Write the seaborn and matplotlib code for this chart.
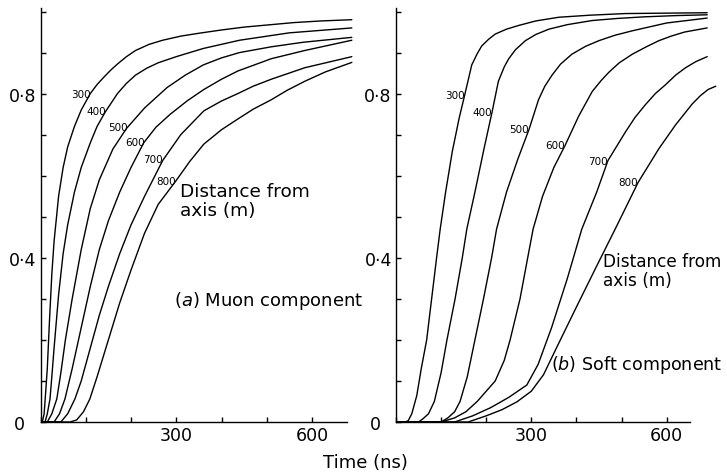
import numpy as np
import pandas as pd
import matplotlib
matplotlib.use("Agg")
import matplotlib.pyplot as plt
import seaborn as sns

# ---------------- data ----------------
distances = [300, 400, 500, 600, 700, 800]

muon_time = {
    300: [0, 4, 8, 10, 15, 20, 25, 30, 40, 50, 60, 75, 90, 110, 125, 140, 155, 170, 190, 210, 240, 270, 310, 350, 400, 450, 500, 560, 620, 688],
    400: [0, 10, 15, 21, 25, 30, 40, 50, 60, 75, 90, 110, 125, 143, 170, 190, 210, 235, 260, 300, 360, 440, 550, 688],
    500: [0, 15, 25, 36, 45, 55, 70, 90, 110, 130, 160, 190, 230, 280, 320, 360, 400, 440, 510, 580, 688],
    600: [0, 30, 42, 54, 70, 90, 110, 130, 150, 175, 200, 228, 255, 287, 325, 361, 400, 436, 510, 584, 688],
    700: [0, 45, 60, 76, 90, 110, 130, 150, 175, 200, 230, 270, 310, 361, 400, 436, 470, 510, 584, 688],
    800: [0, 65, 80, 95, 109, 125, 150, 175, 200, 230, 260, 299, 330, 361, 400, 436, 470, 510, 545, 584, 630, 688],
}
muon_frac = {
    300: [0, 0, 0.02, 0.05, 0.13, 0.25, 0.36, 0.44, 0.55, 0.62, 0.67, 0.72, 0.76, 0.80, 0.822, 0.84, 0.857, 0.872, 0.89, 0.905, 0.92, 0.93, 0.94, 0.947, 0.955, 0.962, 0.967, 0.973, 0.977, 0.98],
    400: [0, 0, 0.02, 0.056, 0.11, 0.18, 0.31, 0.41, 0.48, 0.56, 0.62, 0.68, 0.72, 0.755, 0.80, 0.825, 0.845, 0.862, 0.875, 0.89, 0.91, 0.93, 0.948, 0.96],
    500: [0, 0, 0.02, 0.056, 0.12, 0.2, 0.3, 0.42, 0.52, 0.59, 0.665, 0.715, 0.765, 0.815, 0.845, 0.87, 0.887, 0.90, 0.914, 0.925, 0.937],
    600: [0, 0, 0.02, 0.056, 0.13, 0.23, 0.33, 0.42, 0.49, 0.56, 0.62, 0.68, 0.718, 0.75, 0.783, 0.81, 0.835, 0.855, 0.885, 0.905, 0.93],
    700: [0, 0, 0.02, 0.056, 0.1, 0.18, 0.26, 0.33, 0.41, 0.48, 0.55, 0.637, 0.70, 0.758, 0.782, 0.80, 0.818, 0.835, 0.863, 0.89],
    800: [0, 0, 0.005, 0.025, 0.056, 0.11, 0.2, 0.29, 0.37, 0.46, 0.53, 0.587, 0.635, 0.677, 0.712, 0.738, 0.762, 0.785, 0.808, 0.83, 0.853, 0.876],
}

soft_time = {
    300: [0, 20, 27, 35, 46, 56, 68, 79, 90, 98, 110, 125, 140, 152, 168, 180, 190, 205, 220, 245, 272, 310, 361, 430, 509, 600, 690],
    400: [0, 50, 60, 72, 85, 100, 113, 131, 147, 157, 175, 195, 213, 227, 240, 250, 265, 287, 310, 339, 380, 435, 490, 550, 620, 690],
    500: [0, 100, 115, 130, 142, 158, 175, 194, 212, 223, 245, 270, 295, 316, 330, 346, 365, 390, 420, 450, 485, 524, 600, 690],
    600: [0, 100, 130, 155, 180, 200, 220, 240, 253, 275, 292, 304, 325, 350, 375, 405, 435, 455, 472, 495, 524, 555, 583, 610, 640, 690],
    700: [0, 130, 170, 210, 250, 290, 315, 345, 380, 412, 445, 470, 509, 530, 553, 575, 598, 620, 642, 665, 690],
    800: [0, 160, 200, 235, 268, 300, 327, 360, 400, 445, 486, 537, 583, 620, 657, 675, 692, 709],
}
soft_frac = {
    300: [0, 0, 0.003, 0.02, 0.064, 0.13, 0.2, 0.3, 0.4, 0.47, 0.56, 0.66, 0.74, 0.795, 0.87, 0.897, 0.916, 0.932, 0.945, 0.957, 0.966, 0.977, 0.986, 0.991, 0.995, 0.996, 0.997],
    400: [0, 0, 0.008, 0.02, 0.05, 0.12, 0.2, 0.3, 0.4, 0.47, 0.56, 0.665, 0.755, 0.83, 0.865, 0.885, 0.907, 0.929, 0.944, 0.957, 0.968, 0.978, 0.983, 0.987, 0.99, 0.992],
    500: [0, 0, 0.01, 0.025, 0.05, 0.11, 0.2, 0.3, 0.4, 0.47, 0.56, 0.64, 0.713, 0.785, 0.818, 0.845, 0.872, 0.896, 0.915, 0.929, 0.942, 0.953, 0.972, 0.984],
    600: [0, 0, 0.01, 0.025, 0.05, 0.075, 0.1, 0.15, 0.2, 0.3, 0.4, 0.47, 0.55, 0.62, 0.674, 0.745, 0.805, 0.832, 0.852, 0.875, 0.896, 0.914, 0.929, 0.94, 0.95, 0.96],
    700: [0, 0, 0.015, 0.035, 0.06, 0.09, 0.14, 0.23, 0.35, 0.47, 0.56, 0.637, 0.707, 0.742, 0.773, 0.8, 0.822, 0.845, 0.863, 0.878, 0.89],
    800: [0, 0, 0.015, 0.03, 0.049, 0.075, 0.115, 0.19, 0.28, 0.38, 0.47, 0.584, 0.666, 0.724, 0.775, 0.795, 0.81, 0.818],
}

y_ticks = [0, 0.1, 0.2, 0.3, 0.4, 0.5, 0.6, 0.7, 0.8, 0.9, 1.0]
y_labels = ["0  ", "", "", "", "0·4", "", "", "", "0·8", "", ""]
x_ticks = [0, 100, 200, 300, 400, 500, 600]
x_labels = ["", "", "", "300", "", "", "600"]

# curve-label anchors (right edge of each number, in data coords)
muon_label_pos = {300: (111, 0.799), 400: (145, 0.758), 500: (193, 0.719),
                  600: (231, 0.682), 700: (271, 0.641), 800: (299, 0.587)}
soft_label_pos = {300: (152, 0.796), 400: (213, 0.755), 500: (295, 0.713),
                  600: (375, 0.674), 700: (470, 0.637), 800: (537, 0.584)}


def long_frame(times, fracs):
    rows = []
    for d in distances:
        for t, f in zip(times[d], fracs[d]):
            rows.append((d, t, f))
    return pd.DataFrame(rows, columns=["distance", "time", "frac"])


muon_df = long_frame(muon_time, muon_frac)
soft_df = long_frame(soft_time, soft_frac)

# ---------------- figure ----------------
sns.set_style("ticks")
plt.rcParams["font.family"] = ["DejaVu Sans"]
plt.rcParams["text.color"] = "black"
plt.rcParams["axes.labelcolor"] = "black"
plt.rcParams["xtick.color"] = "black"
plt.rcParams["ytick.color"] = "black"

W, H = 727, 477
fig = plt.figure(figsize=(W / 100, H / 100), dpi=100)


def px(x, y):
    return x / W, 1 - y / H


ax1 = fig.add_axes([40.5 / W, (H - 423) / H, 690 * 0.4525 / W, 1.008 * 410.5 / H])
ax2 = fig.add_axes([396 / W, (H - 423) / H, 712 * 0.451 / W, 1.008 * 410.5 / H])

for ax, df, xmax, spine_end, lab in [
    (ax1, muon_df, 690, 678, muon_label_pos),
    (ax2, soft_df, 712, 652, soft_label_pos),
]:
    sns.lineplot(data=df, x="time", y="frac", units="distance", estimator=None,
                 color="black", lw=1.0, sort=False, legend=False, ax=ax)
    ax.set_xlim(0, xmax)
    ax.set_ylim(0, 1.008)
    ax.set_xticks(x_ticks)
    ax.set_xticklabels(x_labels)
    ax.set_yticks(y_ticks)
    ax.set_yticklabels(y_labels)
    ax.tick_params(direction="in", length=3.5, width=1, labelsize=12.5, pad=3,
                   colors="black")
    ax.set_xlabel("")
    ax.set_ylabel("")
    for s in ["top", "right"]:
        ax.spines[s].set_visible(False)
    for s in ["left", "bottom"]:
        ax.spines[s].set_linewidth(1.0)
        ax.spines[s].set_color("black")
    ax.spines["bottom"].set_bounds(0, spine_end)
    ax.patch.set_alpha(0)
    for d in distances:
        tx, ty = lab[d]
        ax.text(tx, ty, str(d), ha="right", va="center", fontsize=7.5, color="black")

# annotations
fig.text(*px(180, 183), "Distance from\naxis (m)", ha="left", va="top",
         fontsize=13.3, linespacing=1.05, color="black")
fig.text(*px(174, 301), r"($\mathit{a}$) Muon component", ha="left", va="center",
         fontsize=13, color="black")
fig.text(*px(603, 253), "Distance from\naxis (m)", ha="left", va="top",
         fontsize=12.2, linespacing=1.1, color="black")
fig.text(*px(551, 365), r"($\mathit{b}$) Soft component", ha="left", va="center",
         fontsize=12.6, color="black")
fig.text(*px(365, 463), "Time (ns)", ha="center", va="center", fontsize=13,
         color="black")

fig.savefig("out.png", dpi=100)
